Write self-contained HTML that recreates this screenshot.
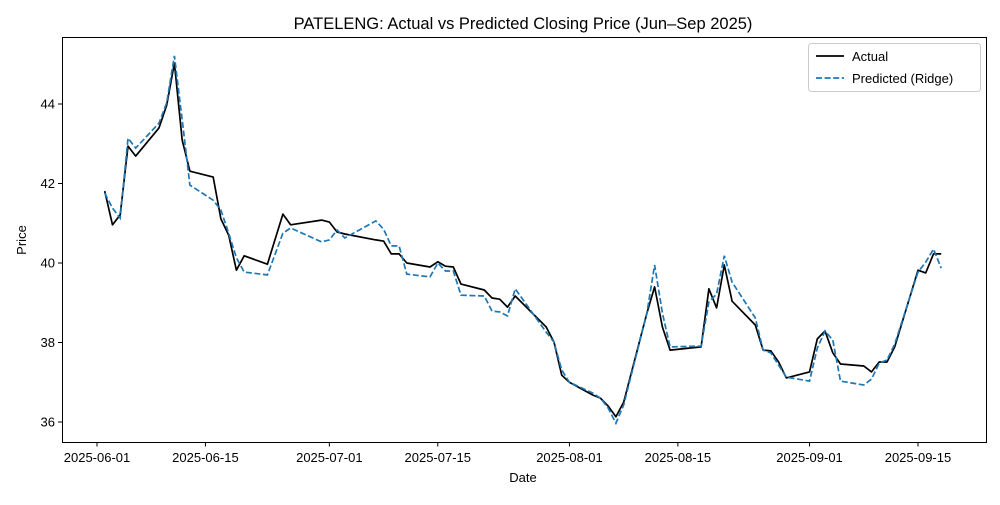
<!DOCTYPE html>
<html><head><meta charset="utf-8"><style>
body{margin:0;background:#fff}
svg{font-family:"Liberation Sans","DejaVu Sans",sans-serif}
</style></head><body>
<svg id="chart" width="1000" height="500" viewBox="0 0 1000 500">
<rect width="1000" height="500" fill="#fff"/>
<text x="523" y="29" text-anchor="middle" font-size="16.5" fill="#000">PATELENG: Actual vs Predicted Closing Price (Jun–Sep 2025)</text>
<g id="grid"></g>
<g id="series"></g>
<rect x="62.5" y="37.5" width="924" height="405" fill="none" stroke="#000" stroke-width="1"/>
<text x="523" y="482" text-anchor="middle" font-size="13">Date</text>
<text x="26" y="240" text-anchor="middle" font-size="13" transform="rotate(-90 26 240)">Price</text>
<g>
<rect x="808.5" y="43.5" width="172" height="48" rx="3" fill="#fff" stroke="#ccc"/>
<line x1="816" y1="56" x2="844" y2="56" stroke="#000" stroke-width="1.7"/>
<text x="852" y="61" font-size="13">Actual</text>
<line x1="816" y1="78" x2="844" y2="78" stroke="#1f77b4" stroke-width="1.7" stroke-dasharray="6,2.6"/>
<text x="852" y="83" font-size="13">Predicted (Ridge)</text>
</g>
</svg>
<script>
const dayOffsets=[1,2,3,4,5,8,9,10,11,12,15,16,17,18,19,22,24,25,29,30,31,32,36,37,38,39,40,43,44,45,46,47,50,51,52,53,54,58,59,60,61,64,65,66,67,68,71,72,73,74,78,79,80,81,82,85,86,87,88,89,92,93,94,95,96,99,100,101,102,103,106,107,108,109];
const actual=[41.81,40.96,41.21,42.94,42.69,43.40,43.97,45.03,43.09,42.31,42.16,41.11,40.70,39.82,40.18,39.97,41.23,40.96,41.08,41.03,40.78,40.73,40.58,40.55,40.23,40.23,40.0,39.9,40.03,39.92,39.9,39.47,39.32,39.12,39.09,38.89,39.17,38.39,38.01,37.18,37.0,36.68,36.6,36.4,36.13,36.5,38.74,39.4,38.39,37.81,37.89,39.35,38.87,39.95,39.04,38.44,37.81,37.79,37.51,37.11,37.26,38.09,38.29,37.74,37.46,37.41,37.26,37.51,37.51,37.89,39.82,39.75,40.23,40.23];
const predicted=[41.76,41.38,41.13,43.14,42.89,43.52,44.03,45.21,43.6,41.96,41.58,41.33,40.75,40.13,39.77,39.70,40.75,40.88,40.53,40.58,40.83,40.63,41.06,40.85,40.43,40.43,39.72,39.65,40.0,39.8,39.8,39.19,39.17,38.79,38.77,38.67,39.35,38.26,38.01,37.31,37.0,36.73,36.6,36.35,35.97,36.43,38.74,39.95,38.74,37.89,37.91,39.02,39.22,40.18,39.52,38.62,37.81,37.74,37.43,37.13,37.03,37.86,38.29,38.06,37.03,36.93,37.08,37.48,37.56,37.96,39.77,40.02,40.35,39.87];
const xTickDays=[0,14,30,44,61,75,92,106];
const xTickLabels=["2025-06-01","2025-06-15","2025-07-01","2025-07-15","2025-08-01","2025-08-15","2025-09-01","2025-09-15"];
const yTicks=[36,38,40,42,44];
const NS="http://www.w3.org/2000/svg";
function xs(d){return 97+7.745*d;}
function ys(v){return 263-(v-40)*39.75;}
const grid=document.getElementById('grid');
const ser=document.getElementById('series');
function mk(tag,attrs,parent){const e=document.createElementNS(NS,tag);for(const k in attrs)e.setAttribute(k,attrs[k]);parent.appendChild(e);return e;}
xTickDays.forEach((d,i)=>{
  const x=xs(d);
  const t=mk('line',{x1:x,y1:442,x2:x,y2:446.5,stroke:'#000','stroke-width':1},grid);
  
  
  const l=mk('text',{x:x,y:462,'text-anchor':'middle','font-size':13},grid);
  l.textContent=xTickLabels[i];
  
  
});
yTicks.forEach(v=>{
  const y=ys(v);
  const t=mk('line',{x1:58,y1:y,x2:62,y2:y,stroke:'#000','stroke-width':1},grid);
  
  
  const l=mk('text',{x:55,y:y+4.5,'text-anchor':'end','font-size':13},grid);
  l.textContent=v;
  
  
});
function pts(arr){return arr.map((v,i)=>xs(dayOffsets[i]).toFixed(1)+','+ys(v).toFixed(1)).join(' ');}
const a=mk('polyline',{points:pts(actual),fill:'none',stroke:'#000','stroke-width':1.7,'stroke-linejoin':'round'},ser);


const p=mk('polyline',{points:pts(predicted),fill:'none',stroke:'#1f77b4','stroke-width':1.7,'stroke-dasharray':'6,2.6'},ser);


</script>
</body></html>
